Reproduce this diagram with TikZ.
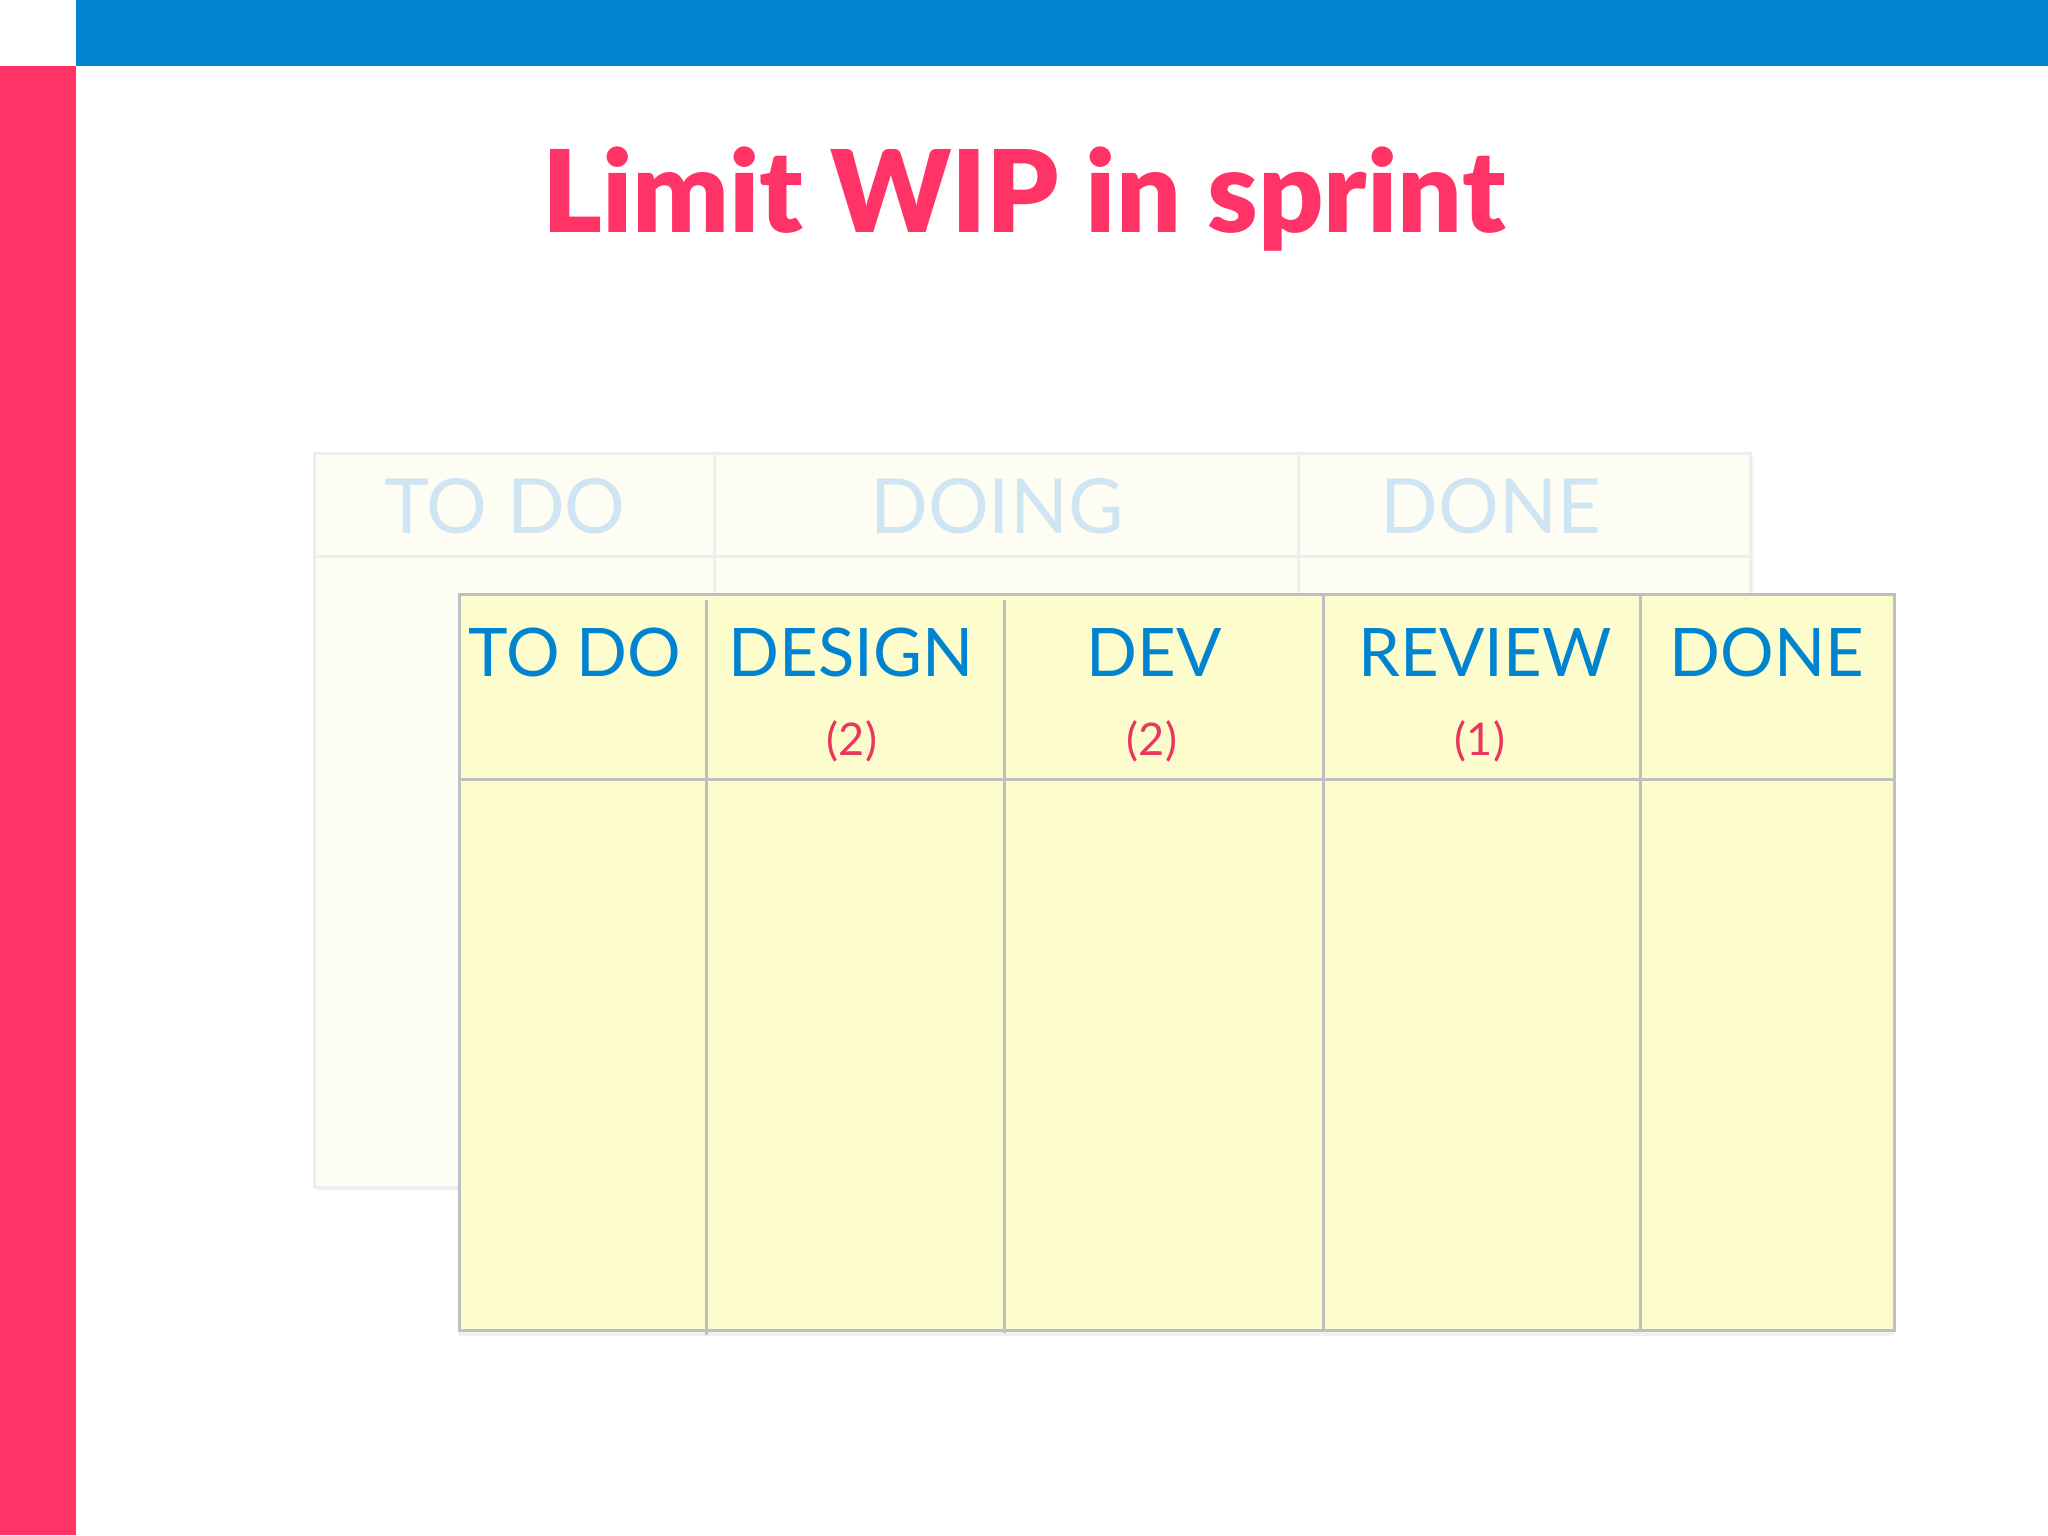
\documentclass[tikz,border=0pt]{standalone}
\usepackage{fontspec}
\setmainfont{Lato}
\newfontfamily\titlefont{Lato Black}
\definecolor{topblue}{HTML}{0084CF}
\definecolor{pinkbar}{HTML}{FF3366}
\definecolor{titlepink}{HTML}{FF3366}
\definecolor{faintfill}{HTML}{FDFDF4}
\definecolor{faintline}{HTML}{EEEEEE}
\definecolor{fainttext}{HTML}{CFE5F3}
\definecolor{boardfill}{HTML}{FCFCCC}
\definecolor{boardline}{HTML}{BFBFBF}
\definecolor{labelblue}{HTML}{0084CF}
\definecolor{limitred}{HTML}{E8365D}
\tikzset{
  faintlbl/.style={anchor=base, text=fainttext, font=\fontsize{38}{40}\selectfont, inner sep=0pt},
  frontlbl/.style={anchor=base, text=labelblue, font=\fontsize{33.5}{35}\selectfont, inner sep=0pt},
  limitlbl/.style={anchor=base, text=limitred, font=\fontsize{22.5}{24}\selectfont, inner sep=0pt},
  faintrule/.style={draw=faintline, line width=1.5pt},
  boardrule/.style={draw=boardline, line width=1.5pt},
}
\begin{document}
\begin{tikzpicture}[x=0.5pt,y=-0.5pt]
\useasboundingbox (0,0) rectangle (2048,1535);
\fill[white] (0,0) rectangle (2048,1535);
% bars
\fill[topblue] (76,0) rectangle (2048,66);
\fill[pinkbar] (0,66) rectangle (76,1535);
% title
\node[anchor=base, text=titlepink, inner sep=0pt, font=\fontsize{57}{60}\selectfont\titlefont] (title) at (1024,233) {Limit WIP in sprint};
% faint board
\fill[black!4] (318,457) rectangle (1754,1191);
\filldraw[faintrule, fill=faintfill] (314,453) rectangle (1750,1187);
\draw[faintrule] (314,556) -- (1750,556);
\draw[faintrule] (714,453) -- (714,1187);
\draw[faintrule] (1298,453) -- (1298,1187);
\node[faintlbl] (ftodo) at (505,533) {TO DO};
\node[faintlbl] (fdoing) at (997,533) {DOING};
\node[faintlbl] (fdone) at (1491,533) {DONE};
% front board
\fill[black!6] (459,1330) rectangle (1894,1336);
\filldraw[boardrule, fill=boardfill] (459,594) rectangle (1894,1330);
\draw[boardrule] (459,779) -- (1894,779);
\draw[boardrule] (706,600) -- (706,1335);
\draw[boardrule] (1004,600) -- (1004,1333);
\draw[boardrule] (1323,594) -- (1323,1330);
\draw[boardrule] (1640,594) -- (1640,1330);
\node[frontlbl] (todo) at (575,676) {TO DO};
\node[frontlbl] (design) at (851,676) {DESIGN};
\node[frontlbl] (dev) at (1154,676) {DEV};
\node[frontlbl] (review) at (1485,676) {REVIEW};
\node[frontlbl] (done) at (1767,676) {DONE};
\node[limitlbl] (ldesign) at (852,755) {(2)};
\node[limitlbl] (ldev) at (1152,755) {(2)};
\node[limitlbl] (lreview) at (1480,755) {(1)};
\end{tikzpicture}
\end{document}
